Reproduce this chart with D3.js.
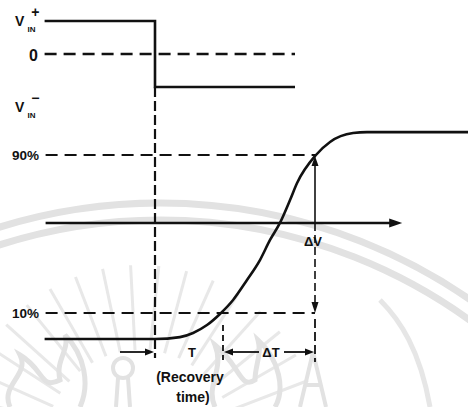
<!DOCTYPE html>
<html>
<head>
<meta charset="utf-8">
<script src="https://cdn.jsdelivr.net/npm/d3@7"></script>
<style>
  html, body { margin: 0; padding: 0; background: #fff; }
  svg { display: block; }
  text { font-family: "Liberation Sans", Arial, sans-serif; font-weight: bold; fill: #111; }
</style>
</head>
<body>
<svg id="chart" width="468" height="407"></svg>
<script>
// Comparator input step (V_IN+ -> V_IN-), in normalised input units
const inputTimes  = [-6.9, 0, 0, 8.75];
const inputValues = [1, 1, -1, -1];
const zeroSpan    = [-6.9, 8.75];

// Comparator output response, percent of full swing
const outputTimes  = [-6.9, 0, 1.56, 2.38, 3.25, 4.06, 4.88, 5.75, 6.56, 7.19, 7.81, 8.44, 8.88, 10.06, 10.94, 12.38, 13.25, 19.6];
const outputValues = [-3.2, -3.2, -2.2, -0.1, 3.9, 9.5, 16.6, 26.7, 36.8, 47.0, 55.6, 67.2, 75.8, 90.0, 96.6, 101.1, 101.6, 101.6];

// Reference levels and their labels
const refLevels = [10, 90];
const refLabels = ["10%", "90%"];

// Time marks: input step, end of recovery time, end of the 10-90 % transition
const stepTime     = 0;
const recoveryTime = 4.25;
const settleTime   = 10;
const axisSpan     = [-6.9, 15.45];
const axisLevel    = 55.6;

const svg = d3.select("#chart");
const x    = d3.scaleLinear().domain([0, 10]).range([155, 315]);
const yIn  = d3.scaleLinear().domain([-1, 1]).range([87, 21]);
const yOut = d3.scaleLinear().domain([10, 90]).range([313, 155]);

// ---- faint background seal ----
const seal = svg.append("g").attr("fill", "none").attr("stroke", "#e2e2e2");
const sc = [160, 748];
[545, 528].forEach(r => {
  seal.append("circle").attr("cx", sc[0]).attr("cy", sc[1]).attr("r", r).attr("stroke-width", 7);
});
const rayC = [140, 445];
d3.range(-165, -14, 9).forEach(a => {
  const rad = a * Math.PI / 180;
  seal.append("line")
    .attr("x1", rayC[0] + 95 * Math.cos(rad)).attr("y1", rayC[1] + 95 * Math.sin(rad))
    .attr("x2", rayC[0] + 180 * Math.cos(rad)).attr("y2", rayC[1] + 180 * Math.sin(rad))
    .attr("stroke-width", 3).attr("stroke", "#e8e8e8");
});
seal.append("circle").attr("cx", 123).attr("cy", 368).attr("r", 10).attr("stroke-width", 4);
seal.append("path").attr("d", "M118,378 L116,407 M128,378 L130,407").attr("stroke-width", 4);
seal.append("path").attr("d", "M10,407 C0,385 30,375 20,355 C45,370 40,390 60,380 C55,360 70,350 65,335 C85,355 90,385 80,407")
  .attr("stroke-width", 5);
seal.append("path").attr("d", "M215,407 C205,385 225,370 215,345 C240,365 240,390 255,380 C255,365 262,355 258,340 C280,360 285,390 275,407")
  .attr("stroke-width", 5);
seal.append("path").attr("d", "M313,352 L300,407 M313,352 L326,407 M305,385 L321,385").attr("stroke-width", 4);
seal.append("path").attr("d", "M380,300 C400,320 420,350 430,407").attr("stroke-width", 5).attr("stroke", "#e6e6e6");

// ---- helpers ----
function arrowHead(px, py, dir, len = 9, half = 3.5) {
  const pts = {
    up:    [[px, py], [px - half, py + len], [px + half, py + len]],
    down:  [[px, py], [px - half, py - len], [px + half, py - len]],
    right: [[px, py], [px - len, py - half], [px - len, py + half]],
    left:  [[px, py], [px + len, py - half], [px + len, py + half]]
  }[dir];
  svg.append("path").attr("d", d3.line()(pts) + "Z").attr("fill", "#111");
}
const ink = "#111";

// ---- input waveform ----
svg.append("path")
  .datum(d3.zip(inputTimes, inputValues))
  .attr("d", d3.line().x(d => x(d[0])).y(d => yIn(d[1])))
  .attr("fill", "none").attr("stroke", ink).attr("stroke-width", 2.6);

svg.append("line")
  .attr("x1", x(zeroSpan[0])).attr("x2", x(zeroSpan[1]))
  .attr("y1", yIn(0)).attr("y2", yIn(0))
  .attr("stroke", ink).attr("stroke-width", 2.4).attr("stroke-dasharray", "12,7");

// input labels
const vp = svg.append("text").attr("x", 15).attr("y", 26).attr("font-size", 14);
vp.append("tspan").text("V");
vp.append("tspan").attr("font-size", 14).attr("dx", 7).attr("dy", -9).text("+");
vp.append("tspan").attr("font-size", 8).attr("dx", -12).attr("dy", 15).text("IN");
svg.append("text").attr("x", 38).attr("y", 61).attr("font-size", 16).attr("text-anchor", "end").text("0");
const vn = svg.append("text").attr("x", 15).attr("y", 112).attr("font-size", 14);
vn.append("tspan").text("V");
vn.append("tspan").attr("font-size", 14).attr("dx", 7).attr("dy", -9).text("\u2212");
vn.append("tspan").attr("font-size", 8).attr("dx", -12).attr("dy", 15).text("IN");

// ---- reference levels ----
refLevels.forEach((lv, i) => {
  svg.append("line")
    .attr("x1", x(axisSpan[0]) + 1).attr("x2", x(settleTime))
    .attr("y1", yOut(lv)).attr("y2", yOut(lv))
    .attr("stroke", ink).attr("stroke-width", 2.2).attr("stroke-dasharray", "12,7");
  svg.append("text").attr("x", 39).attr("y", yOut(lv) + 5)
    .attr("font-size", 13.5).attr("text-anchor", "end").text(refLabels[i]);
});

// ---- time axis ----
svg.append("line")
  .attr("x1", x(axisSpan[0]) + 1).attr("x2", x(axisSpan[1]) - 8)
  .attr("y1", yOut(axisLevel)).attr("y2", yOut(axisLevel))
  .attr("stroke", ink).attr("stroke-width", 2.6);
arrowHead(x(axisSpan[1]), yOut(axisLevel), "right", 13, 4.5);

// ---- vertical marker at the input step ----
svg.append("line")
  .attr("x1", x(stepTime)).attr("x2", x(stepTime))
  .attr("y1", yIn(-1)).attr("y2", 358)
  .attr("stroke", ink).attr("stroke-width", 2.2).attr("stroke-dasharray", "10,4");

// ---- output response ----
svg.append("path")
  .datum(d3.zip(outputTimes, outputValues))
  .attr("d", d3.line().x(d => x(d[0])).y(d => yOut(d[1])).curve(d3.curveMonotoneX))
  .attr("fill", "none").attr("stroke", ink).attr("stroke-width", 2.6);

// ---- ΔV marker at the end of the transition ----
const xs = x(settleTime);
svg.append("line").attr("x1", xs).attr("x2", xs)
  .attr("y1", yOut(90) + 8).attr("y2", yOut(axisLevel))
  .attr("stroke", ink).attr("stroke-width", 1.6);
arrowHead(xs, yOut(90) + 1, "up", 10, 3.5);
svg.append("line").attr("x1", xs).attr("x2", xs)
  .attr("y1", yOut(axisLevel)).attr("y2", yOut(10) - 9)
  .attr("stroke", ink).attr("stroke-width", 1.6).attr("stroke-dasharray", "8,4");
arrowHead(xs, yOut(10), "down", 11, 3.5);
svg.append("line").attr("x1", xs).attr("x2", xs)
  .attr("y1", yOut(10) + 6).attr("y2", 362)
  .attr("stroke", ink).attr("stroke-width", 1.8).attr("stroke-dasharray", "9,4");
svg.append("text").attr("x", xs - 11).attr("y", yOut(axisLevel) + 23)
  .attr("font-size", 13).text("\u0394V");

// ---- recovery time / transition time annotations ----
const rowY = 352;
const xr = x(recoveryTime);
svg.append("line").attr("x1", xr).attr("x2", xr)
  .attr("y1", 325).attr("y2", 360)
  .attr("stroke", ink).attr("stroke-width", 1.8).attr("stroke-dasharray", "6,4");

svg.append("line").attr("x1", 120).attr("x2", x(stepTime) - 6)
  .attr("y1", rowY).attr("y2", rowY).attr("stroke", ink).attr("stroke-width", 1.8);
arrowHead(x(stepTime) - 1, rowY, "right", 9, 3.5);
svg.append("text").attr("x", (x(stepTime) + xr) / 2 + 3).attr("y", rowY + 5)
  .attr("font-size", 13).attr("text-anchor", "middle").text("T");

arrowHead(xr + 1, rowY, "left", 9, 3.5);
svg.append("line").attr("x1", xr + 6).attr("x2", 259)
  .attr("y1", rowY).attr("y2", rowY).attr("stroke", ink).attr("stroke-width", 1.8);
svg.append("text").attr("x", 271).attr("y", rowY + 5)
  .attr("font-size", 13).attr("text-anchor", "middle").text("\u0394T");
svg.append("line").attr("x1", 284).attr("x2", xs - 6)
  .attr("y1", rowY).attr("y2", rowY).attr("stroke", ink).attr("stroke-width", 1.8);
arrowHead(xs - 1, rowY, "right", 9, 3.5);

svg.append("text").attr("x", 190).attr("y", 382)
  .attr("font-size", 14).attr("text-anchor", "middle").text("(Recovery");
svg.append("text").attr("x", 193).attr("y", 402)
  .attr("font-size", 14).attr("text-anchor", "middle").text("time)");
</script>
</body>
</html>
